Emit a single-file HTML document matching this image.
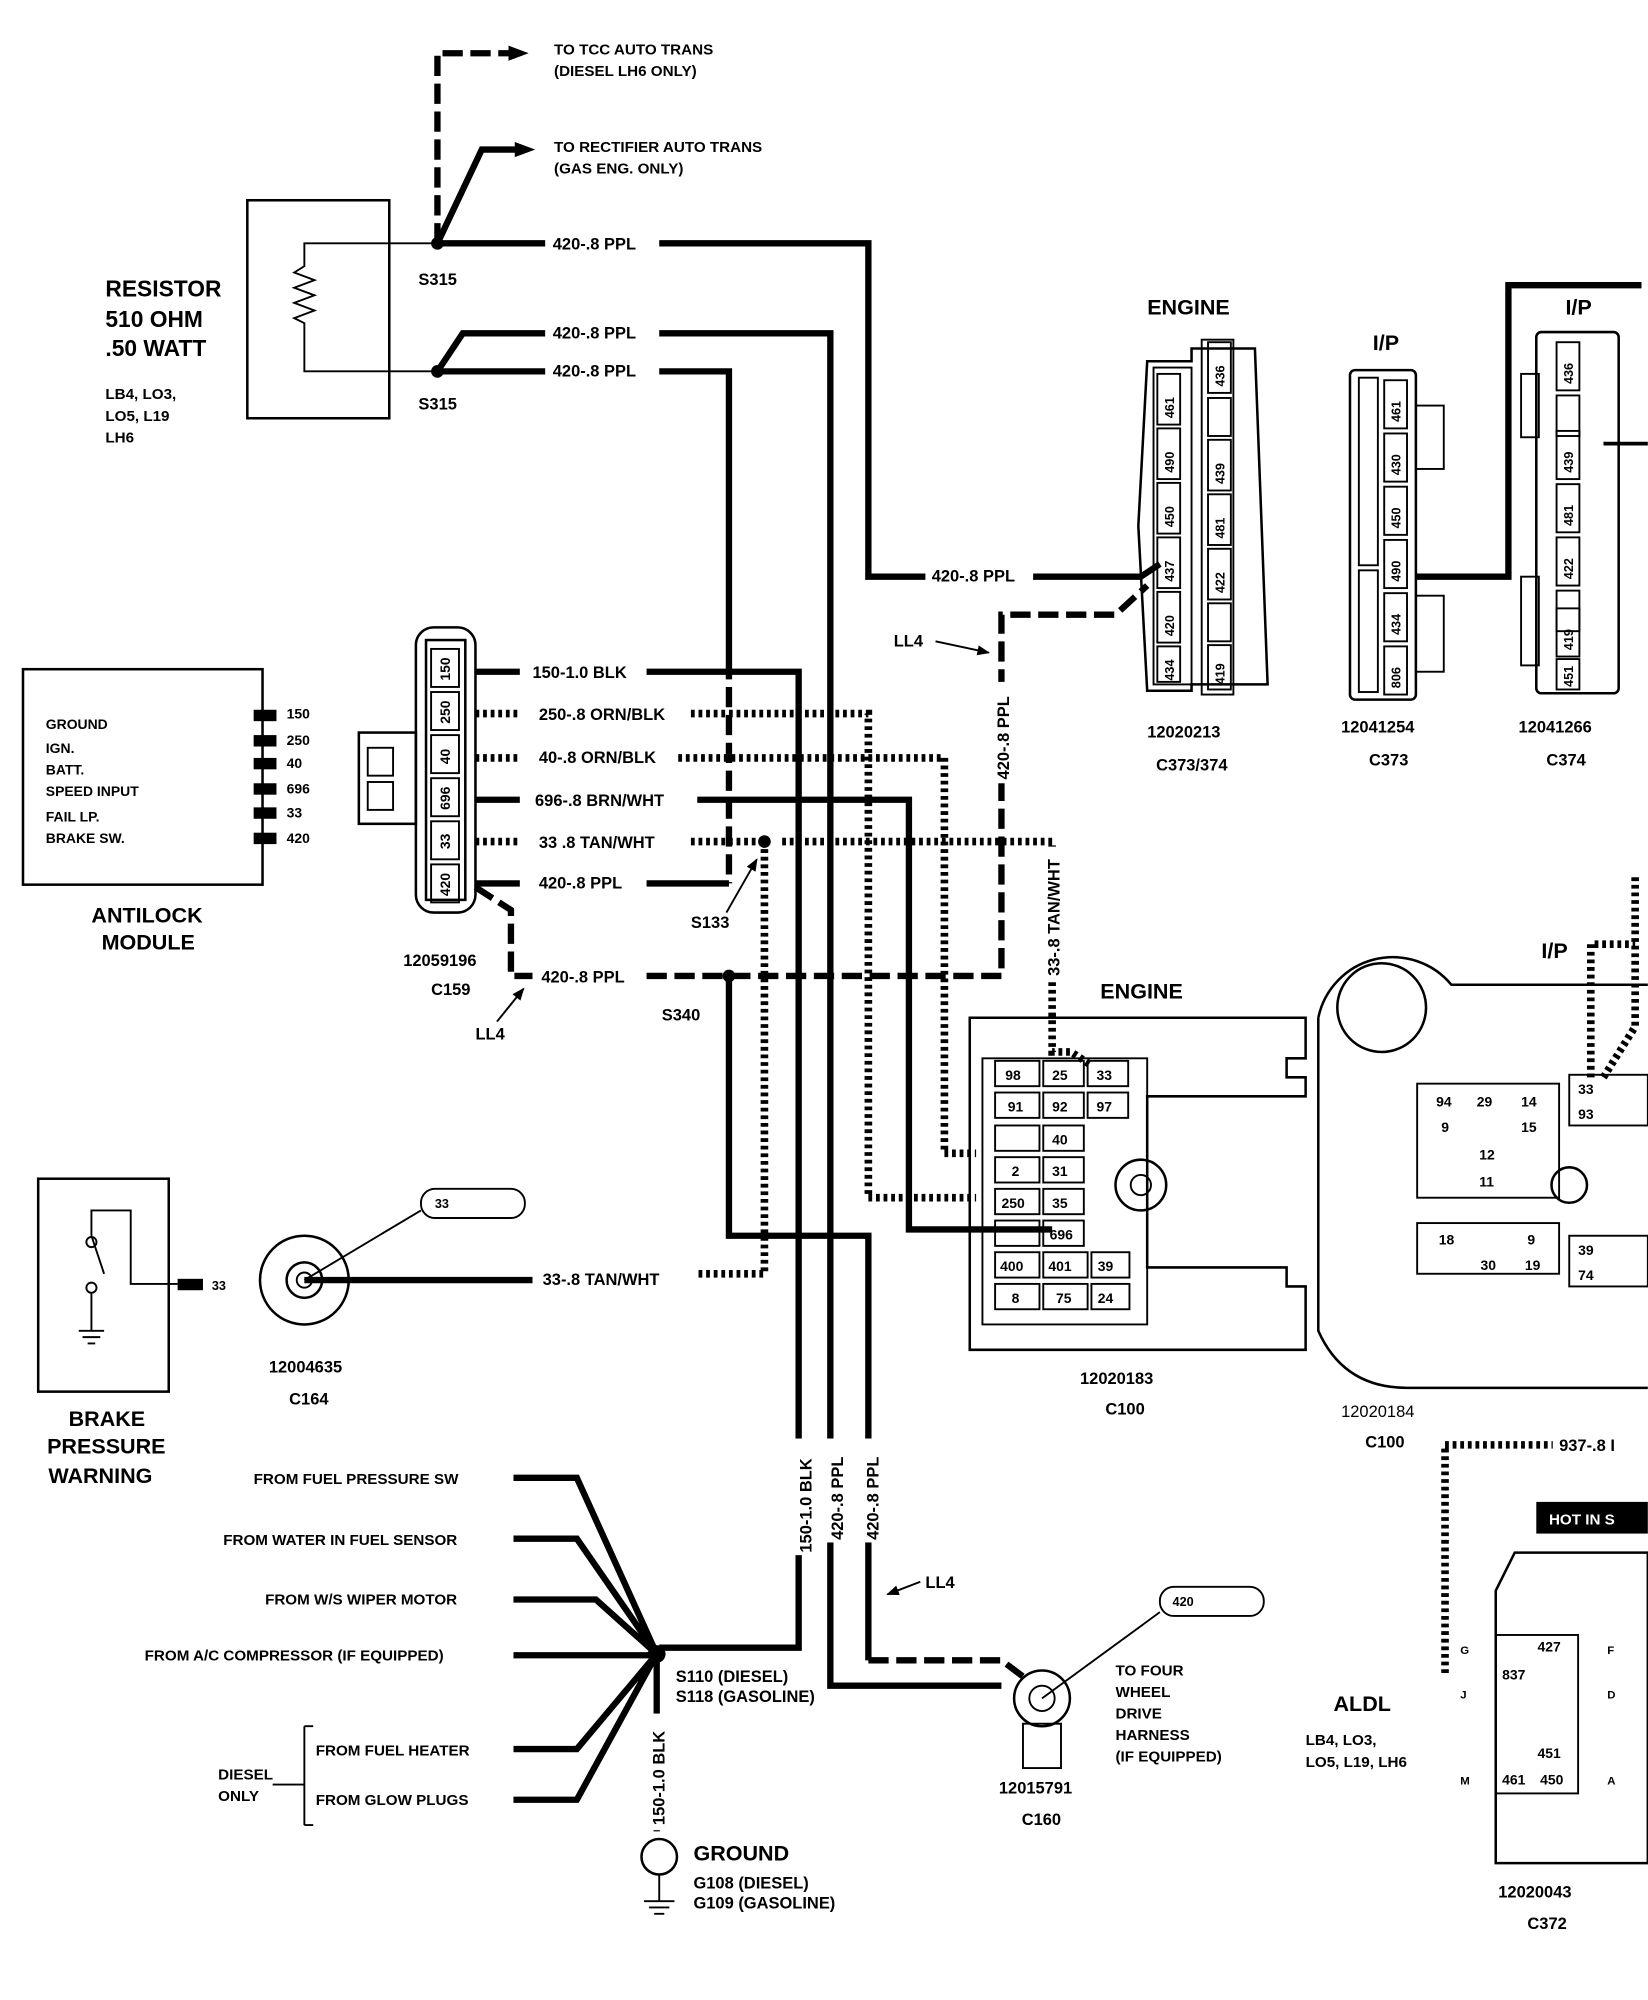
<!DOCTYPE html>
<html><head><meta charset="utf-8"><style>
html,body{margin:0;padding:0;background:#fff}
svg{display:block}
text{font-family:"Liberation Sans",sans-serif;font-weight:bold;fill:#000}
.s{font-size:12px}.m{font-size:13px}.b{font-size:18px}
.w{stroke:#000;stroke-width:5;fill:none}
.d{stroke:#000;stroke-width:5;fill:none;stroke-dasharray:16 6}
.h{stroke:#000;stroke-width:6;fill:none;stroke-dasharray:3 3}
.t{stroke:#000;stroke-width:2;fill:none}
.n{stroke:#000;stroke-width:1.5;fill:none}
.wb{fill:#fff}
</style></head><body>
<svg width="1648" height="2000" viewBox="0 0 1300 1578" xmlns="http://www.w3.org/2000/svg">
<defs>
<marker id="ar" markerWidth="16" markerHeight="12" refX="4" refY="6" orient="auto" markerUnits="userSpaceOnUse"><path d="M0,0L16,6L0,12z" fill="#000"/></marker>
<marker id="sa" markerWidth="10" markerHeight="8" refX="9" refY="4" orient="auto" markerUnits="userSpaceOnUse"><path d="M0,0L10,4L0,8z" fill="#000"/></marker>
</defs>
<!-- top arrows -->
<path class="d" d="M345,192V42H405" marker-end="url(#ar)"/>
<path class="w" d="M345,192L380,118H410" marker-end="url(#ar)"/>
<text class="s" x="437" y="43">TO TCC AUTO TRANS</text>
<text class="s" x="437" y="60">(DIESEL LH6 ONLY)</text>
<text class="s" x="437" y="120">TO RECTIFIER AUTO TRANS</text>
<text class="s" x="437" y="137">(GAS ENG. ONLY)</text>
<!-- resistor -->
<rect class="t" x="195" y="158" width="112" height="172"/>
<path class="n" d="M345,192H240V210l-8,5l16,6l-16,6l16,6l-16,6l16,6l-16,6l8,4V293H345"/>
<circle cx="345" cy="192" r="5"/><circle cx="345" cy="293" r="5"/>
<text class="m" x="330" y="225">S315</text><text class="m" x="330" y="323">S315</text>
<text class="b" x="83" y="234">RESISTOR</text>
<text class="b" x="83" y="258">510 OHM</text>
<text class="b" x="83" y="281">.50 WATT</text>
<text class="s" x="83" y="315">LB4, LO3,</text>
<text class="s" x="83" y="332">LO5, L19</text>
<text class="s" x="83" y="349">LH6</text>
<!-- 420 wires from S315 -->
<path class="w" d="M345,192H430"/><text class="m" x="436" y="197">420-.8 PPL</text>
<path class="w" d="M520,192H685V455H730"/><text class="m" x="735" y="459">420-.8 PPL</text>
<path class="w" d="M815,455H900L915,445"/>
<path class="w" d="M345,293L365,263H430"/><text class="m" x="436" y="267">420-.8 PPL</text>
<path class="w" d="M520,263H655V1330H790"/>
<path class="w" d="M345,293H430"/><text class="m" x="436" y="297">420-.8 PPL</text>
<path class="w" d="M520,293H575V520"/><path class="d" d="M575,520V697"/>
<!-- Antilock module -->
<rect class="t" x="18" y="528" width="189" height="170"/>
<g class="s" style="font-size:11px">
<text x="36" y="575">GROUND</text><text x="36" y="594">IGN.</text><text x="36" y="611">BATT.</text>
<text x="36" y="628">SPEED INPUT</text><text x="36" y="648">FAIL LP.</text><text x="36" y="665">BRAKE SW.</text>
<text x="226" y="567">150</text><text x="226" y="588">250</text><text x="226" y="606">40</text>
<text x="226" y="626">696</text><text x="226" y="645">33</text><text x="226" y="665">420</text></g>
<rect x="200" y="560" width="18" height="9"/><rect x="200" y="580" width="18" height="9"/><rect x="200" y="598" width="18" height="9"/>
<rect x="200" y="618" width="18" height="9"/><rect x="200" y="637" width="18" height="9"/><rect x="200" y="657" width="18" height="9"/>
<text class="b" x="72" y="728" style="font-size:17px">ANTILOCK</text>
<text class="b" x="80" y="749" style="font-size:17px">MODULE</text>
<!-- C159 -->
<rect class="t" x="328" y="495" width="47" height="225" rx="14"/>
<rect class="t" x="336" y="505" width="31" height="205"/>
<rect class="t" x="283" y="578" width="45" height="72"/><rect class="n" x="290" y="590" width="20" height="22"/><rect class="n" x="290" y="617" width="20" height="22"/>
<g class="s" style="font-size:11px">
<rect class="n" x="340" y="512" width="22" height="30"/><text transform="translate(355,537) rotate(-90)">150</text>
<rect class="n" x="340" y="546" width="22" height="30"/><text transform="translate(355,571) rotate(-90)">250</text>
<rect class="n" x="340" y="580" width="22" height="30"/><text transform="translate(355,603) rotate(-90)">40</text>
<rect class="n" x="340" y="614" width="22" height="30"/><text transform="translate(355,639) rotate(-90)">696</text>
<rect class="n" x="340" y="648" width="22" height="30"/><text transform="translate(355,670) rotate(-90)">33</text>
<rect class="n" x="340" y="682" width="22" height="30"/><text transform="translate(355,707) rotate(-90)">420</text></g>
<text class="m" x="318" y="762">12059196</text><text class="m" x="340" y="785">C159</text>
<!-- C159 wires -->
<path class="w" d="M375,530H410"/><text class="m" x="420" y="535">150-1.0 BLK</text>
<path class="w" d="M510,530H630V1300H520"/>
<path class="h" d="M375,563H410"/><text class="m" x="425" y="568">250-.8 ORN/BLK</text>
<path class="h" d="M545,563H685V945H770"/>
<path class="h" d="M375,598H410"/><text class="m" x="425" y="602">40-.8 ORN/BLK</text>
<path class="h" d="M535,598H745V910H770"/>
<path class="w" d="M375,631H410"/><text class="m" x="422" y="636">696-.8 BRN/WHT</text>
<path class="w" d="M550,631H717V970H830"/>
<path class="h" d="M375,664H410"/><text class="m" x="425" y="669">33 .8 TAN/WHT</text>
<path class="h" d="M545,664H603"/><circle cx="603" cy="664" r="5"/>
<path class="h" d="M617,664H830V830H845L860,840"/>
<path class="h" d="M603,664V1005H550"/>
<path class="w" d="M375,697H410"/><text class="m" x="425" y="701">420-.8 PPL</text>
<path class="w" d="M510,697H575"/>
<text class="m" x="545" y="732">S133</text>
<path class="n" d="M573,720L597,678" marker-end="url(#sa)"/>
<path class="d" d="M375,700L403,718V770H420"/><text class="m" x="427" y="775">420-.8 PPL</text>
<path class="d" d="M510,770H790V485H880L905,462"/><circle cx="575" cy="770" r="5"/>
<path class="w" d="M575,770V975H685V1310"/>
<text class="m" x="522" y="805">S340</text>
<text class="m" x="375" y="820">LL4</text><path class="n" d="M392,806L413,780" marker-end="url(#sa)"/>
<rect class="wb" x="782" y="538" width="18" height="80"/>
<text class="m" transform="translate(796,615) rotate(-90)">420-.8 PPL</text>
<rect class="wb" x="822" y="668" width="18" height="104"/>
<text class="m" transform="translate(836,770) rotate(-90)">33-.8 TAN/WHT</text>
<text class="m" x="705" y="510">LL4</text><path class="n" d="M738,506L780,515" marker-end="url(#sa)"/>
<!-- ENGINE C373/374 -->
<text class="b" x="905" y="248" style="font-size:17px">ENGINE</text>
<path class="t" d="M905,285H940V275H990L1000,540H940V545H905L898,415Z"/>
<rect class="n" x="910" y="290" width="30" height="250"/><rect class="n" x="948" y="268" width="25" height="280"/>
<g style="font-size:10px">
<rect class="n" x="913" y="295" width="18" height="40"/><text transform="translate(926,330) rotate(-90)">461</text>
<rect class="n" x="913" y="338" width="18" height="40"/><text transform="translate(926,373) rotate(-90)">490</text>
<rect class="n" x="913" y="381" width="18" height="40"/><text transform="translate(926,416) rotate(-90)">450</text>
<rect class="n" x="913" y="424" width="18" height="40"/><text transform="translate(926,459) rotate(-90)">437</text>
<rect class="n" x="913" y="467" width="18" height="40"/><text transform="translate(926,502) rotate(-90)">420</text>
<rect class="n" x="913" y="510" width="18" height="28"/><text transform="translate(926,537) rotate(-90)">434</text>
<rect class="n" x="953" y="270" width="18" height="40"/><text transform="translate(966,305) rotate(-90)">436</text>
<rect class="n" x="953" y="314" width="18" height="30"/>
<rect class="n" x="953" y="347" width="18" height="40"/><text transform="translate(966,382) rotate(-90)">439</text>
<rect class="n" x="953" y="390" width="18" height="40"/><text transform="translate(966,425) rotate(-90)">481</text>
<rect class="n" x="953" y="433" width="18" height="40"/><text transform="translate(966,468) rotate(-90)">422</text>
<rect class="n" x="953" y="476" width="18" height="30"/>
<rect class="n" x="953" y="509" width="18" height="35"/><text transform="translate(966,540) rotate(-90)">419</text>
</g>
<text class="m" x="905" y="582">12020213</text><text class="m" x="912" y="608">C373/374</text>
<!-- I/P C373 -->
<text class="b" x="1083" y="276" style="font-size:17px">I/P</text>
<rect class="t" x="1065" y="292" width="52" height="260" rx="4"/>
<rect class="n" x="1072" y="298" width="15" height="148"/><rect class="n" x="1072" y="450" width="15" height="96"/>
<g style="font-size:10px">
<rect class="n" x="1092" y="300" width="18" height="38"/><text transform="translate(1105,333) rotate(-90)">461</text>
<rect class="n" x="1092" y="342" width="18" height="38"/><text transform="translate(1105,375) rotate(-90)">430</text>
<rect class="n" x="1092" y="384" width="18" height="38"/><text transform="translate(1105,417) rotate(-90)">450</text>
<rect class="n" x="1092" y="426" width="18" height="38"/><text transform="translate(1105,459) rotate(-90)">490</text>
<rect class="n" x="1092" y="468" width="18" height="38"/><text transform="translate(1105,501) rotate(-90)">434</text>
<rect class="n" x="1092" y="510" width="18" height="38"/><text transform="translate(1105,543) rotate(-90)">806</text></g>
<rect class="n" x="1117" y="320" width="22" height="50"/><rect class="n" x="1117" y="470" width="22" height="60"/>
<path class="w" d="M1117,455H1190V225H1295"/>
<text class="m" x="1058" y="578">12041254</text><text class="m" x="1080" y="604">C373</text>
<!-- I/P C374 -->
<text class="b" x="1235" y="248" style="font-size:17px">I/P</text>
<rect class="t" x="1212" y="262" width="65" height="285" rx="4"/>
<rect class="n" x="1200" y="295" width="14" height="50"/><rect class="n" x="1200" y="455" width="14" height="70"/>
<g style="font-size:10px">
<rect class="n" x="1228" y="270" width="18" height="38"/><text transform="translate(1241,303) rotate(-90)">436</text>
<rect class="n" x="1228" y="312" width="18" height="32"/>
<rect class="n" x="1228" y="340" width="18" height="38"/><text transform="translate(1241,373) rotate(-90)">439</text>
<rect class="n" x="1228" y="382" width="18" height="38"/><text transform="translate(1241,415) rotate(-90)">481</text>
<rect class="n" x="1228" y="424" width="18" height="38"/><text transform="translate(1241,457) rotate(-90)">422</text>
<rect class="n" x="1228" y="466" width="18" height="32"/>
<rect class="n" x="1228" y="480" width="18" height="38"/><text transform="translate(1241,513) rotate(-90)">419</text>
<rect class="n" x="1228" y="520" width="18" height="24"/><text transform="translate(1241,542) rotate(-90)">451</text></g>
<path class="w" d="M1265,350H1300" style="stroke-width:3"/>
<text class="m" x="1198" y="578">12041266</text><text class="m" x="1220" y="604">C374</text>
<!-- C100 engine -->
<text class="b" x="868" y="788" style="font-size:17px">ENGINE</text>
<path class="t" d="M765,803H1030V835H1015V850H1030V865H905V1000H1015V1015H1030V1065H765Z"/>
<path class="n" d="M775,835H905V1045H775Z"/>
<g style="font-size:11px">
<rect class="n" x="785" y="837" width="35" height="20"/><text x="793" y="852">98</text>
<rect class="n" x="823" y="837" width="32" height="20"/><text x="830" y="852">25</text>
<rect class="n" x="858" y="837" width="32" height="20"/><text x="865" y="852">33</text>
<rect class="n" x="785" y="862" width="35" height="20"/><text x="795" y="877">91</text>
<rect class="n" x="823" y="862" width="32" height="20"/><text x="830" y="877">92</text>
<rect class="n" x="858" y="862" width="32" height="20"/><text x="865" y="877">97</text>
<rect class="n" x="785" y="888" width="35" height="20"/>
<rect class="n" x="823" y="888" width="32" height="20"/><text x="830" y="903">40</text>
<rect class="n" x="785" y="913" width="35" height="20"/><text x="798" y="928">2</text>
<rect class="n" x="823" y="913" width="32" height="20"/><text x="830" y="928">31</text>
<rect class="n" x="785" y="938" width="35" height="20"/><text x="790" y="953">250</text>
<rect class="n" x="823" y="938" width="32" height="20"/><text x="830" y="953">35</text>
<rect class="n" x="785" y="963" width="35" height="20"/>
<rect class="n" x="823" y="963" width="32" height="20"/><text x="828" y="978">696</text>
<rect class="n" x="785" y="988" width="35" height="20"/><text x="789" y="1003">400</text>
<rect class="n" x="823" y="988" width="35" height="20"/><text x="827" y="1003">401</text>
<rect class="n" x="861" y="988" width="30" height="20"/><text x="866" y="1003">39</text>
<rect class="n" x="785" y="1013" width="35" height="20"/><text x="798" y="1028">8</text>
<rect class="n" x="823" y="1013" width="35" height="20"/><text x="833" y="1028">75</text>
<rect class="n" x="861" y="1013" width="30" height="20"/><text x="866" y="1028">24</text></g>
<circle class="t" cx="900" cy="935" r="20"/><circle class="n" cx="900" cy="935" r="8"/>
<text class="m" x="852" y="1092">12020183</text><text class="m" x="872" y="1116">C100</text>
<!-- C100 I/P round -->
<text class="b" x="1216" y="756" style="font-size:17px">I/P</text>
<path class="t" d="M1040,803A60,60 0 0 1 1145,777H1300M1040,803V1050Q1060,1095 1110,1095H1300"/>
<circle class="t" cx="1090" cy="795" r="35"/>
<g style="font-size:11px">
<rect class="n" x="1118" y="855" width="112" height="90"/>
<text x="1133" y="873">94</text><text x="1165" y="873">29</text><text x="1200" y="873">14</text>
<text x="1137" y="893">9</text><text x="1200" y="893">15</text><text x="1167" y="915">12</text><text x="1167" y="936">11</text>
<rect class="n" x="1118" y="965" width="112" height="40"/>
<text x="1135" y="982">18</text><text x="1205" y="982">9</text><text x="1168" y="1002">30</text><text x="1203" y="1002">19</text>
<rect class="n" x="1238" y="848" width="62" height="40"/><text x="1245" y="863">33</text><text x="1245" y="883">93</text>
<rect class="n" x="1238" y="975" width="62" height="40"/><text x="1245" y="990">39</text><text x="1245" y="1010">74</text></g>
<circle class="t" cx="1238" cy="935" r="14"/>
<path class="h" d="M1255,850V745H1290M1265,850L1290,810V690"/>
<text class="m" x="1058" y="1118" style="font-weight:normal">12020184</text><text class="m" x="1077" y="1142">C100</text>
<!-- ALDL -->
<path class="h" d="M1140,1320V1140H1225"/><text class="m" x="1230" y="1145">937-.8 I</text>
<rect x="1212" y="1185" width="88" height="25"/><text x="1222" y="1203" class="s" style="fill:#fff">HOT IN S</text>
<path class="t" d="M1195,1225H1300V1470H1180V1255Z"/>
<g style="font-size:11px">
<rect class="n" x="1180" y="1290" width="65" height="125"/>
<text x="1213" y="1303">427</text><text x="1185" y="1325">837</text><text x="1213" y="1387">451</text><text x="1185" y="1408">461</text><text x="1215" y="1408">450</text>
<text x="1152" y="1305" style="font-size:9px">G</text><text x="1152" y="1340" style="font-size:9px">J</text><text x="1152" y="1408" style="font-size:9px">M</text>
<text x="1268" y="1305" style="font-size:9px">F</text><text x="1268" y="1340" style="font-size:9px">D</text><text x="1268" y="1408" style="font-size:9px">A</text></g>
<text class="b" x="1052" y="1350" style="font-size:17px">ALDL</text>
<text class="s" x="1030" y="1377">LB4, LO3,</text><text class="s" x="1030" y="1394">LO5, L19, LH6</text>
<text class="m" x="1182" y="1497">12020043</text><text class="m" x="1205" y="1522">C372</text>
<!-- Brake pressure -->
<rect class="t" x="30" y="930" width="103" height="168"/>
<path class="n" d="M72,975V955H103V1013H140M72,975L82,1005M72,1020V1050M62,1050H82M65,1055H79M69,1060H75"/>
<circle class="n" cx="72" cy="980" r="4"/><circle class="n" cx="72" cy="1016" r="4"/>
<rect x="140" y="1009" width="20" height="9"/><text class="s" x="167" y="1018" style="font-size:10px">33</text>
<text class="b" x="54" y="1125" style="font-size:17px">BRAKE</text>
<text class="b" x="37" y="1147" style="font-size:17px">PRESSURE</text>
<text class="b" x="38" y="1170" style="font-size:17px">WARNING</text>
<circle class="t" cx="240" cy="1010" r="35"/><circle class="t" cx="240" cy="1010" r="14"/><circle class="n" cx="240" cy="1010" r="6"/>
<path class="w" d="M240,1010H420"/><text class="m" x="428" y="1014">33-.8 TAN/WHT</text>
<path class="n" d="M240,1010L332,955"/><rect class="n" x="332" y="938" width="82" height="23" rx="11"/><text x="343" y="953" style="font-size:10px">33</text>
<text class="m" x="212" y="1083">12004635</text><text class="m" x="228" y="1108">C164</text>
<!-- S110 bundle -->
<g class="s">
<text x="200" y="1171">FROM FUEL PRESSURE SW</text>
<text x="176" y="1219">FROM WATER IN FUEL SENSOR</text>
<text x="209" y="1266">FROM W/S WIPER MOTOR</text>
<text x="114" y="1310">FROM A/C COMPRESSOR (IF EQUIPPED)</text>
<text x="249" y="1385">FROM FUEL HEATER</text>
<text x="249" y="1424">FROM GLOW PLUGS</text>
<text x="172" y="1404">DIESEL</text><text x="172" y="1421">ONLY</text></g>
<path class="n" d="M240,1362V1440M240,1362H247M240,1440H247M215,1408H240"/>
<path class="w" d="M405,1166H455L518,1305M405,1214H455L518,1305M405,1262H470L518,1305M405,1306H518M405,1380H455L518,1305M405,1420H455L518,1305"/>
<circle cx="518" cy="1305" r="7"/>
<text class="m" x="533" y="1327">S110 (DIESEL)</text><text class="m" x="533" y="1343">S118 (GASOLINE)</text>
<path class="w" d="M518,1305V1445"/>
<rect class="wb" x="510" y="1352" width="18" height="92"/>
<text class="m" transform="translate(524,1440) rotate(-90)">150-1.0 BLK</text>
<circle class="t" cx="520" cy="1465" r="14"/><path class="n" d="M520,1479V1500M508,1500H532M512,1505H528M516,1510H524"/>
<text class="b" x="547" y="1468" style="font-size:17px">GROUND</text>
<text class="m" x="547" y="1490">G108 (DIESEL)</text><text class="m" x="547" y="1506">G109 (GASOLINE)</text>
<rect class="wb" x="624" y="1135" width="18" height="92"/>
<rect class="wb" x="650" y="1135" width="18" height="82"/>
<rect class="wb" x="678" y="1135" width="18" height="82"/>
<text class="m" transform="translate(640,1225) rotate(-90)">150-1.0 BLK</text>
<text class="m" transform="translate(665,1215) rotate(-90)">420-.8 PPL</text>
<text class="m" transform="translate(693,1215) rotate(-90)">420-.8 PPL</text>
<path class="d" d="M685,1310H790L810,1325"/>
<text class="m" x="730" y="1253">LL4</text><path class="n" d="M726,1248L700,1258" marker-end="url(#sa)"/>
<!-- C160 -->
<circle class="t" cx="822" cy="1340" r="22"/><circle class="n" cx="822" cy="1340" r="10"/>
<rect class="n" x="807" y="1360" width="30" height="35"/>
<path class="n" d="M822,1340L915,1272"/><rect class="n" x="915" y="1252" width="82" height="23" rx="11"/><text x="925" y="1267" style="font-size:10px">420</text>
<g class="s"><text x="880" y="1322">TO FOUR</text><text x="880" y="1339">WHEEL</text><text x="880" y="1356">DRIVE</text><text x="880" y="1373">HARNESS</text><text x="880" y="1390">(IF EQUIPPED)</text></g>
<text class="m" x="788" y="1415">12015791</text><text class="m" x="806" y="1440">C160</text>
</svg>
</body></html>
